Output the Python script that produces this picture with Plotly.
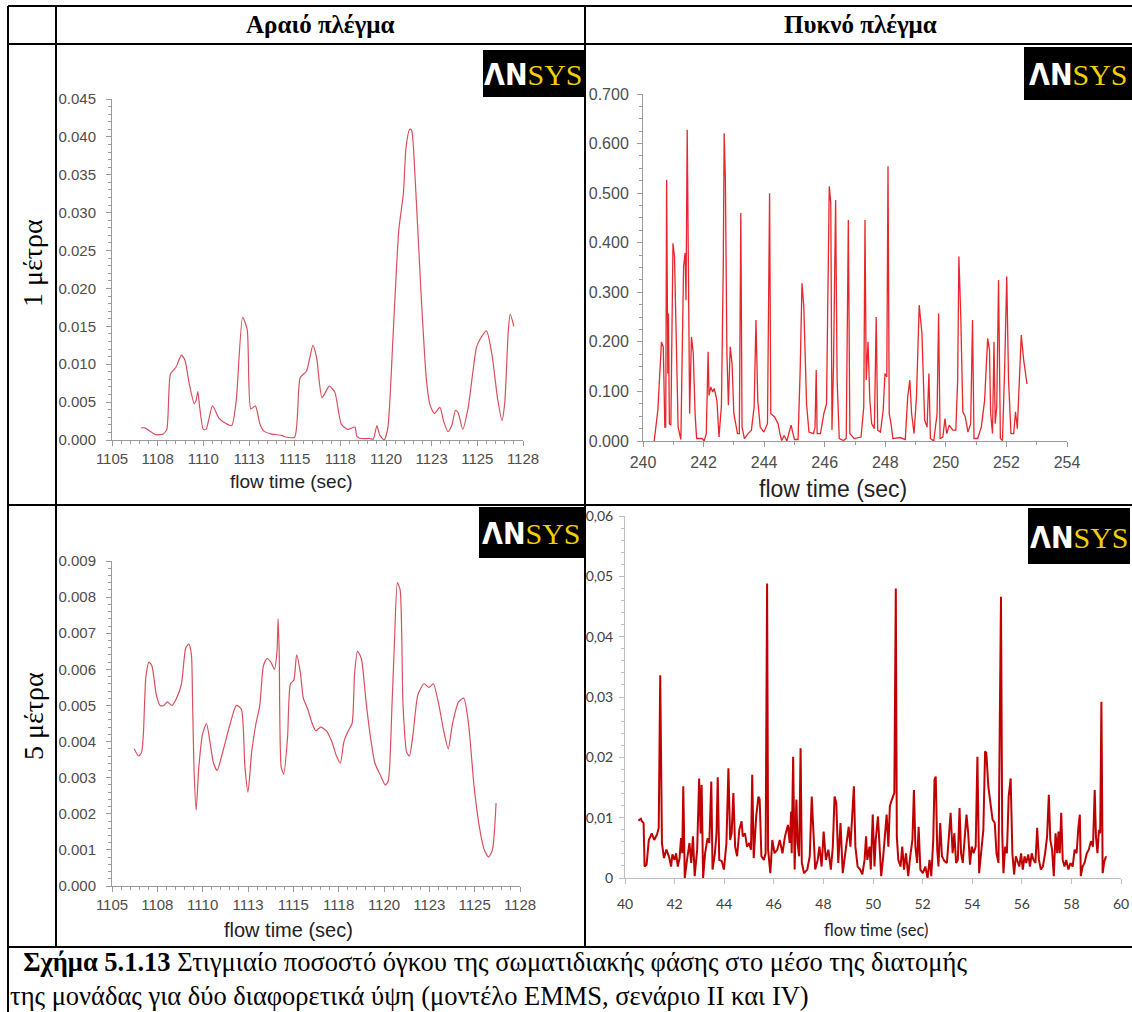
import plotly.graph_objects as go

W, H = 1132, 1012


def px(x):
    return x / W


def py(y):
    return 1 - y / H


# ---------------- data ----------------
# coarse mesh, 1 m height
t_coarse_1m = [1106.6, 1106.8, 1107.4, 1107.8, 1108.0, 1108.2, 1108.5, 1108.8, 1109.0, 1109.2,
               1109.5, 1109.6, 1109.7, 1109.8, 1110.0, 1110.15, 1110.5, 1110.85, 1111.15, 1111.55,
               1111.8, 1112.15, 1112.4, 1112.6, 1112.85, 1113.1, 1113.3, 1113.7, 1114.3, 1114.5,
               1115.0, 1115.3, 1115.65, 1116.0, 1116.2, 1116.5, 1116.9, 1117.2, 1117.55, 1117.9,
               1118.3, 1118.4, 1118.6, 1119.1, 1119.3, 1119.5, 1119.65, 1119.9, 1120.1, 1120.4,
               1120.7, 1120.95, 1121.1, 1121.3, 1121.4, 1121.6, 1121.9, 1122.2, 1122.4, 1122.65,
               1122.95, 1123.15, 1123.4, 1123.6, 1123.8, 1123.95, 1124.2, 1124.5, 1124.95, 1125.15,
               1125.5, 1125.8, 1126.1, 1126.35, 1126.5, 1126.7, 1126.8, 1127.0]
vf_coarse_1m = [0.0016, 0.0016, 0.0007, 0.0008, 0.0014, 0.0087, 0.0096, 0.0112, 0.0105, 0.0078,
                0.0048, 0.0052, 0.0064, 0.0043, 0.0014, 0.0014, 0.0045, 0.0029, 0.0023, 0.0019,
                0.0052, 0.0162, 0.0146, 0.0041, 0.0045, 0.0021, 0.0012, 0.0008, 0.0006, 0.0004,
                0.0004, 0.0082, 0.0091, 0.0125, 0.0109, 0.0056, 0.0071, 0.0063, 0.0021, 0.0014,
                0.0017, 0.0005, 0.0002, 0.0002, 0.0001, 0.0019, 0.0007, 0.0, 0.0016, 0.0144,
                0.0277, 0.0325, 0.0387, 0.0410, 0.0409, 0.0343, 0.0202, 0.0083, 0.0047, 0.0035,
                0.0043, 0.0025, 0.0011, 0.0019, 0.0039, 0.0036, 0.0014, 0.0043, 0.0122, 0.0133,
                0.0144, 0.0113, 0.0056, 0.0026, 0.0049, 0.0146, 0.0166, 0.0150]

# fine mesh, 1 m height
t_fine_1m = [240.37, 240.49, 240.61, 240.67, 240.72, 240.75, 240.78, 240.82, 240.84, 240.87,
             240.92, 240.99, 241.04, 241.10, 241.16, 241.25, 241.34, 241.39, 241.42, 241.46,
             241.50, 241.54, 241.60, 241.66, 241.72, 241.77, 241.95, 242.02, 242.09, 242.15,
             242.18, 242.24, 242.30, 242.35, 242.44, 242.51, 242.59, 242.65, 242.68, 242.72,
             242.77, 242.82, 242.88, 242.94, 243.00, 243.12, 243.18, 243.23, 243.27, 243.35,
             243.47, 243.58, 243.67, 243.73, 243.79, 243.87, 243.99, 244.11, 244.18, 244.22,
             244.34, 244.46, 244.52, 244.58, 244.66, 244.75, 244.89, 245.00, 245.12, 245.19,
             245.25, 245.31, 245.40, 245.48, 245.63, 245.68, 245.72, 245.75, 245.86, 245.97,
             246.06, 246.12, 246.15, 246.20, 246.24, 246.29, 246.36, 246.41, 246.48, 246.62,
             246.71, 246.78, 246.83, 246.97, 247.20, 247.29, 247.33, 247.37, 247.43, 247.49,
             247.55, 247.64, 247.70, 247.75, 247.84, 247.93, 247.99, 248.05, 248.09, 248.13,
             248.19, 248.25, 248.49, 248.66, 248.74, 248.81, 248.87, 248.95, 249.03, 249.12,
             249.21, 249.30, 249.38, 249.44, 249.49, 249.60, 249.71, 249.76, 249.81, 249.90,
             249.97, 250.03, 250.11, 250.23, 250.33, 250.39, 250.43, 250.49, 250.56, 250.64,
             250.73, 250.82, 250.88, 250.93, 251.05, 251.17, 251.28, 251.38, 251.44, 251.48,
             251.54, 251.59, 251.63, 251.68, 251.74, 251.80, 251.87, 251.94, 252.01, 252.07,
             252.15, 252.24, 252.30, 252.36, 252.43, 252.49, 252.57, 252.66, 252.68]
vf_fine_1m = [0.0, 0.062, 0.200, 0.190, 0.028, 0.028, 0.527, 0.136, 0.257, 0.035,
              0.032, 0.399, 0.372, 0.204, 0.028, 0.003, 0.352, 0.379, 0.284, 0.628,
              0.257, 0.055, 0.210, 0.177, 0.055, 0.005, 0.005, 0.0, 0.015, 0.180,
              0.092, 0.109, 0.099, 0.106, 0.082, 0.008, 0.072, 0.352, 0.621, 0.527,
              0.177, 0.072, 0.190, 0.156, 0.055, 0.015, 0.015, 0.460, 0.028, 0.005,
              0.015, 0.022, 0.069, 0.244, 0.082, 0.028, 0.018, 0.035, 0.500, 0.055,
              0.049, 0.035, 0.015, 0.001, 0.011, 0.0, 0.032, 0.003, 0.003, 0.143,
              0.318, 0.271, 0.075, 0.018, 0.015, 0.028, 0.143, 0.015, 0.015, 0.055,
              0.075, 0.379, 0.514, 0.480, 0.022, 0.150, 0.486, 0.123, 0.005, 0.001,
              0.005, 0.446, 0.015, 0.005, 0.008, 0.069, 0.446, 0.123, 0.200, 0.082,
              0.035, 0.025, 0.250, 0.022, 0.018, 0.062, 0.136, 0.129, 0.554, 0.055,
              0.035, 0.005, 0.007, 0.003, 0.089, 0.123, 0.055, 0.015, 0.089, 0.274,
              0.217, 0.042, 0.028, 0.136, 0.005, 0.0, 0.055, 0.257, 0.005, 0.008,
              0.045, 0.015, 0.032, 0.022, 0.022, 0.123, 0.372, 0.257, 0.059, 0.049,
              0.018, 0.035, 0.244, 0.005, 0.005, 0.028, 0.082, 0.207, 0.183, 0.055,
              0.015, 0.200, 0.035, 0.069, 0.325, 0.005, 0.001, 0.143, 0.332, 0.123,
              0.015, 0.015, 0.059, 0.025, 0.143, 0.214, 0.163, 0.116, 0.115]

# coarse mesh, 5 m height
t_coarse_5m = [1106.22, 1106.47, 1106.63, 1106.73, 1106.87, 1107.04, 1107.20, 1107.44, 1107.65, 1107.85,
               1108.05, 1108.30, 1108.56, 1108.83, 1109.07, 1109.24, 1109.38, 1109.44, 1109.52, 1109.64,
               1109.79, 1109.99, 1110.21, 1110.40, 1110.60, 1110.80, 1111.10, 1111.52, 1111.86, 1112.13,
               1112.33, 1112.50, 1112.70, 1112.94, 1113.15, 1113.35, 1113.55, 1113.76, 1113.96, 1114.10,
               1114.16, 1114.22, 1114.33, 1114.47, 1114.68, 1114.84, 1115.03, 1115.18, 1115.39, 1115.55,
               1115.79, 1116.04, 1116.24, 1116.51, 1116.81, 1117.12, 1117.38, 1117.59, 1117.79, 1118.03,
               1118.24, 1118.38, 1118.54, 1118.75, 1119.01, 1119.26, 1119.50, 1119.77, 1120.07, 1120.23,
               1120.44, 1120.58, 1120.74, 1120.89, 1121.05, 1121.25, 1121.40, 1121.60, 1121.87, 1122.21,
               1122.48, 1122.72, 1123.03, 1123.29, 1123.54, 1123.78, 1124.11, 1124.40, 1124.66, 1124.96,
               1125.27, 1125.53, 1125.77, 1125.98, 1126.18]
vf_coarse_5m = [0.0038, 0.0036, 0.0037, 0.0042, 0.0058, 0.0062, 0.0061, 0.0053, 0.0050, 0.0050,
                0.0051, 0.0050, 0.0052, 0.0056, 0.0066, 0.0067, 0.0064, 0.0052, 0.0033, 0.0021,
                0.0033, 0.0042, 0.0045, 0.0040, 0.0034, 0.0032, 0.0037, 0.0045, 0.0050, 0.0049,
                0.0033, 0.0026, 0.0037, 0.0045, 0.0050, 0.0061, 0.0063, 0.0062, 0.0060, 0.0065,
                0.0074, 0.0065, 0.0033, 0.0031, 0.0041, 0.0056, 0.0057, 0.0064, 0.0059, 0.0052,
                0.0049, 0.0045, 0.0043, 0.0044, 0.0043, 0.0040, 0.0036, 0.0034, 0.0040, 0.0043,
                0.0045, 0.0059, 0.0065, 0.0063, 0.0051, 0.0041, 0.0034, 0.0031, 0.0028, 0.0029,
                0.0050, 0.0068, 0.0084, 0.0082, 0.0050, 0.0037, 0.0036, 0.0042, 0.0053, 0.0056,
                0.0055, 0.0056, 0.0050, 0.0043, 0.0038, 0.0045, 0.0051, 0.0052, 0.0045, 0.0028,
                0.0016, 0.0010, 0.0008, 0.0010, 0.0023]

# fine mesh, 5 m height
t_fine_5m = [40.54, 40.64, 40.68, 40.75, 40.79, 40.87, 40.96, 41.08, 41.18, 41.29,
             41.36, 41.42, 41.49, 41.57, 41.67, 41.77, 41.86, 41.91, 42.00, 42.06,
             42.13, 42.20, 42.26, 42.31, 42.35, 42.41, 42.50, 42.60, 42.67, 42.74,
             42.81, 42.91, 42.99, 43.05, 43.09, 43.15, 43.23, 43.33, 43.40, 43.48,
             43.53, 43.62, 43.69, 43.74, 43.80, 43.90, 43.99, 44.09, 44.17, 44.24,
             44.30, 44.37, 44.44, 44.52, 44.61, 44.70, 44.75, 44.84, 44.92, 45.01,
             45.08, 45.13, 45.19, 45.29, 45.38, 45.43, 45.50, 45.60, 45.67, 45.73,
             45.77, 45.86, 45.94, 46.03, 46.14, 46.24, 46.35, 46.45, 46.57, 46.64,
             46.70, 46.72, 46.78, 46.84, 46.91, 46.96, 47.02, 47.08, 47.13, 47.22,
             47.35, 47.45, 47.53, 47.59, 47.67, 47.77, 47.84, 47.93, 48.01, 48.10,
             48.20, 48.30, 48.38, 48.45, 48.52, 48.60, 48.69, 48.78, 48.87, 48.95,
             49.02, 49.09, 49.16, 49.23, 49.29, 49.38, 49.48, 49.57, 49.66, 49.72,
             49.77, 49.86, 49.91, 49.99, 50.06, 50.11, 50.20, 50.26, 50.33, 50.40,
             50.48, 50.55, 50.62, 50.68, 50.76, 50.82, 50.86, 50.92, 50.96, 51.02,
             51.11, 51.18, 51.25, 51.33, 51.42, 51.50, 51.59, 51.65, 51.71, 51.78,
             51.84, 51.91, 52.01, 52.11, 52.20, 52.28, 52.35, 52.43, 52.48, 52.53,
             52.59, 52.64, 52.71, 52.78, 52.88, 52.98, 53.06, 53.13, 53.21, 53.28,
             53.35, 53.42, 53.49, 53.55, 53.62, 53.70, 53.77, 53.84, 53.91, 53.98,
             54.06, 54.14, 54.21, 54.28, 54.36, 54.45, 54.52, 54.57, 54.65, 54.73,
             54.82, 54.91, 54.98, 55.06, 55.12, 55.16, 55.21, 55.26, 55.33, 55.40,
             55.47, 55.55, 55.62, 55.69, 55.76, 55.83, 55.90, 55.97, 56.04, 56.11,
             56.18, 56.26, 56.33, 56.40, 56.47, 56.55, 56.62, 56.69, 56.77, 56.85,
             56.94, 57.02, 57.09, 57.15, 57.22, 57.29, 57.36, 57.43, 57.48, 57.53,
             57.59, 57.65, 57.72, 57.79, 57.88, 57.96, 58.05, 58.13, 58.21, 58.28,
             58.34, 58.38, 58.45, 58.53, 58.62, 58.70, 58.79, 58.87, 58.94, 58.99,
             59.05, 59.11, 59.16, 59.21, 59.26, 59.33, 59.40]
vf_fine_5m = [0.0095, 0.0098, 0.0094, 0.0091, 0.0019, 0.0022, 0.0063, 0.0074, 0.0063, 0.0072,
              0.0083, 0.0336, 0.0058, 0.0033, 0.0047, 0.0036, 0.0019, 0.0039, 0.0030, 0.0041,
              0.0019, 0.0033, 0.0066, 0.0041, 0.0152, 0.0000, 0.0030, 0.0058, 0.0025, 0.0069,
              0.0003, 0.0047, 0.0165, 0.0074, 0.0154, 0.0000, 0.0041, 0.0066, 0.0058, 0.0160,
              0.0014, 0.0039, 0.0074, 0.0167, 0.0030, 0.0028, 0.0014, 0.0058, 0.0182, 0.0063,
              0.0074, 0.0141, 0.0052, 0.0036, 0.0080, 0.0094, 0.0069, 0.0074, 0.0052, 0.0058,
              0.0047, 0.0171, 0.0033, 0.0102, 0.0135, 0.0130, 0.0036, 0.0030, 0.0041, 0.0488,
              0.0047, 0.0008, 0.0063, 0.0041, 0.0047, 0.0063, 0.0041, 0.0069, 0.0088, 0.0058,
              0.0110, 0.0041, 0.0201, 0.0014, 0.0130, 0.0058, 0.0036, 0.0215, 0.0025, 0.0008,
              0.0014, 0.0036, 0.0135, 0.0074, 0.0014, 0.0030, 0.0052, 0.0019, 0.0077, 0.0030,
              0.0047, 0.0014, 0.0052, 0.0135, 0.0124, 0.0025, 0.0091, 0.0008, 0.0036, 0.0058,
              0.0085, 0.0052, 0.0099, 0.0152, 0.0052, 0.0019, 0.0014, 0.0006, 0.0030, 0.0069,
              0.0030, 0.0052, 0.0014, 0.0105, 0.0019, 0.0063, 0.0102, 0.0047, 0.0003, 0.0030,
              0.0074, 0.0105, 0.0052, 0.0119, 0.0130, 0.0138, 0.0141, 0.0480, 0.0069, 0.0030,
              0.0019, 0.0052, 0.0014, 0.0041, 0.0003, 0.0036, 0.0063, 0.0146, 0.0052, 0.0025,
              0.0085, 0.0014, 0.0008, 0.0019, 0.0000, 0.0030, 0.0003, 0.0063, 0.0163, 0.0168,
              0.0047, 0.0019, 0.0091, 0.0036, 0.0028, 0.0025, 0.0080, 0.0108, 0.0041, 0.0074,
              0.0025, 0.0030, 0.0116, 0.0041, 0.0025, 0.0074, 0.0105, 0.0074, 0.0022, 0.0052,
              0.0041, 0.0052, 0.0201, 0.0008, 0.0041, 0.0080, 0.0210, 0.0207, 0.0152, 0.0130,
              0.0097, 0.0091, 0.0041, 0.0025, 0.0240, 0.0466, 0.0074, 0.0008, 0.0052, 0.0041,
              0.0135, 0.0165, 0.0041, 0.0006, 0.0036, 0.0028, 0.0019, 0.0041, 0.0014, 0.0036,
              0.0025, 0.0039, 0.0019, 0.0041, 0.0030, 0.0025, 0.0083, 0.0030, 0.0014, 0.0019,
              0.0041, 0.0069, 0.0138, 0.0063, 0.0047, 0.0003, 0.0074, 0.0041, 0.0077, 0.0041,
              0.0108, 0.0030, 0.0019, 0.0030, 0.0014, 0.0025, 0.0019, 0.0047, 0.0041, 0.0083,
              0.0105, 0.0003, 0.0019, 0.0025, 0.0041, 0.0047, 0.0061, 0.0052, 0.0146, 0.0069,
              0.0041, 0.0080, 0.0074, 0.0292, 0.0008, 0.0028, 0.0036]

# tick labels of the ANSYS time axes (ticks every 2.5 s, labels rounded)
ansys_tick_vals = [1105, 1107.5, 1110, 1112.5, 1115, 1117.5, 1120, 1122.5, 1125, 1127.5]
ansys_tick_text = ["1105", "1108", "1110", "1113", "1115", "1118", "1120", "1123", "1125", "1128"]
excel_y_vals = [0, 0.01, 0.02, 0.03, 0.04, 0.05, 0.06]
excel_y_text = ["0", "0,01", "0,02", "0,03", "0,04", "0,05", "0,06"]

col_headers = ["Αραιό πλέγμα", "Πυκνό πλέγμα"]
row_headers = ["1 μέτρα", "5 μέτρα"]
axis_title = "flow time (sec)"
caption_bold = "Σχήμα 5.1.13"
caption_line1 = " Στιγμιαίο ποσοστό όγκου της σωματιδιακής φάσης στο μέσο της διατομής"
caption_line2 = "της μονάδας για δύο διαφορετικά ύψη (μοντέλο EMMS, σενάριο II και IV)"

# ---------------- figure ----------------
fig = go.Figure()

fig.add_trace(go.Scatter(x=t_coarse_1m, y=vf_coarse_1m, mode="lines", xaxis="x", yaxis="y",
                         line=dict(color="#d9505c", width=1.2, shape="spline", smoothing=0.6)))
fig.add_trace(go.Scatter(x=t_fine_1m, y=vf_fine_1m, mode="lines", xaxis="x2", yaxis="y2",
                         line=dict(color="#e8262c", width=1.3)))
fig.add_trace(go.Scatter(x=t_coarse_5m, y=vf_coarse_5m, mode="lines", xaxis="x3", yaxis="y3",
                         line=dict(color="#d9505c", width=1.2, shape="spline", smoothing=0.6)))
fig.add_trace(go.Scatter(x=t_fine_5m, y=vf_fine_5m, mode="lines", xaxis="x4", yaxis="y4",
                         line=dict(color="#c00000", width=2)))

ansys_font = dict(family="Liberation Sans, Arial, sans-serif", size=15, color="#4d4d4d")
gray = "#9a9a9a"
excel_gray = "#bfbfbf"
excel_font = dict(family="Lato, sans-serif", size=14, color="#404040")


def ansys_axis(**kw):
    base = dict(showline=True, linecolor=gray, linewidth=1, ticks="outside", ticklen=5,
                tickcolor=gray, tickwidth=1, showgrid=False, zeroline=False, automargin=False,
                tickfont=ansys_font, fixedrange=True)
    base.update(kw)
    return base


def excel_axis(**kw):
    base = dict(showline=True, linecolor=excel_gray, linewidth=1, ticks="outside", ticklen=5,
                tickcolor=excel_gray, showgrid=False, zeroline=False, automargin=False,
                tickfont=excel_font, fixedrange=True)
    base.update(kw)
    return base


layout_axes = dict(
    xaxis=ansys_axis(domain=[px(112), px(523)], range=[1105, 1127.5], anchor="y",
                     tickmode="array", tickvals=ansys_tick_vals, ticktext=ansys_tick_text,
                     minor=dict(ticks="outside", ticklen=3, tick0=1105, dtick=0.5, tickcolor=gray)),
    yaxis=ansys_axis(domain=[py(440), py(99)], range=[0, 0.045], anchor="x",
                     dtick=0.005, tick0=0, tickformat=".3f", ticklabelstandoff=7,
                     minor=dict(ticks="outside", ticklen=3, dtick=0.001, tickcolor=gray)),
    xaxis2=ansys_axis(domain=[px(643), px(1067)], range=[240, 254], anchor="y2",
                      dtick=2, tick0=240, tickfont=dict(ansys_font, size=16), ticklabelstandoff=2,
                      minor=dict(ticks="outside", ticklen=3, dtick=1, tickcolor=gray)),
    yaxis2=ansys_axis(domain=[py(441), py(94)], range=[0, 0.7], anchor="x2",
                      dtick=0.1, tick0=0, tickformat=".3f", tickfont=dict(ansys_font, size=16),
                      ticklabelstandoff=5,
                      minor=dict(ticks="outside", ticklen=3, dtick=0.025, tickcolor=gray)),
    xaxis3=ansys_axis(domain=[px(112), px(520)], range=[1105, 1127.5], anchor="y3",
                      tickmode="array", tickvals=ansys_tick_vals, ticktext=ansys_tick_text,
                      minor=dict(ticks="outside", ticklen=3, tick0=1105, dtick=0.5, tickcolor=gray)),
    yaxis3=ansys_axis(domain=[py(886), py(561)], range=[0, 0.009], anchor="x3",
                      dtick=0.001, tick0=0, tickformat=".3f", ticklabelstandoff=7,
                      minor=dict(ticks="outside", ticklen=3, dtick=0.0002, tickcolor=gray)),
    xaxis4=excel_axis(domain=[px(625), px(1121)], range=[40, 60], anchor="y4", dtick=2, tick0=40,
                      ticklabelstandoff=8),
    yaxis4=excel_axis(domain=[py(878), py(516)], range=[0, 0.06], anchor="x4",
                      tickmode="array", tickvals=excel_y_vals, ticktext=excel_y_text,
                      ticklabelstandoff=3,
                      minor=dict(ticks="outside", ticklen=3, dtick=0.002, tickcolor=excel_gray)),
)

# ---------------- table frame ----------------
line_black = dict(color="black", width=2)
shapes = [
    dict(type="line", xref="paper", yref="paper", x0=px(8), x1=px(1132), y0=py(6), y1=py(6), line=line_black),
    dict(type="line", xref="paper", yref="paper", x0=px(8), x1=px(1132), y0=py(44), y1=py(44), line=line_black),
    dict(type="line", xref="paper", yref="paper", x0=px(8), x1=px(1132), y0=py(505), y1=py(505), line=line_black),
    dict(type="line", xref="paper", yref="paper", x0=px(8), x1=px(1132), y0=py(947), y1=py(947), line=line_black),
    dict(type="line", xref="paper", yref="paper", x0=px(8), x1=px(8), y0=py(6), y1=py(1012), line=line_black),
    dict(type="line", xref="paper", yref="paper", x0=px(56), x1=px(56), y0=py(6), y1=py(947), line=line_black),
    dict(type="line", xref="paper", yref="paper", x0=px(585), x1=px(585), y0=py(6), y1=py(947), line=line_black),
]

# ANSYS badges (x0, x1, y0, y1 in pixels)
badges = [(483, 584, 50, 97), (1024, 1132, 47, 100), (479, 584, 507, 558), (1028, 1130, 508, 564)]
for x0, x1, y0, y1 in badges:
    shapes.append(dict(type="rect", xref="paper", yref="paper", x0=px(x0), x1=px(x1),
                       y0=py(y1), y1=py(y0), fillcolor="black", line=dict(width=0), layer="above"))

annotations = []
badge_text = ("<span style='color:#ffffff;font-family:Liberation Sans Narrow, DejaVu Sans Condensed, sans-serif;"
              "font-weight:bold'>ΛN</span>"
              "<span style='color:#f2d000;font-family:Liberation Serif, serif'>SYS</span>")
for x0, x1, y0, y1 in badges:
    annotations.append(dict(xref="paper", yref="paper", x=px((x0 + x1) / 2), y=py((y0 + y1) / 2 + 1),
                            text=badge_text, showarrow=False, xanchor="center", yanchor="middle",
                            font=dict(size=30, family="Liberation Serif")))

# column and row headers
serif = "Liberation Serif, Times New Roman, serif"
for label, cx in zip(col_headers, [320, 860]):
    annotations.append(dict(xref="paper", yref="paper", x=px(cx), y=py(25), text=f"<b>{label}</b>",
                            showarrow=False, xanchor="center", yanchor="middle",
                            font=dict(family=serif, size=25, color="black")))
for label, cy in zip(row_headers, [263, 716]):
    annotations.append(dict(xref="paper", yref="paper", x=px(33), y=py(cy), text=label, textangle=-90,
                            showarrow=False, xanchor="center", yanchor="middle",
                            font=dict(family=serif, size=28, color="black")))

# axis titles
for cx, cy, fam, size in [(291, 481, "Liberation Sans, Arial, sans-serif", 19),
                          (833, 489, "Liberation Sans, Arial, sans-serif", 23),
                          (288, 930, "Liberation Sans, Arial, sans-serif", 20),
                          (876, 930, "Lato, sans-serif", 16.5)]:
    annotations.append(dict(xref="paper", yref="paper", x=px(cx), y=py(cy), text=axis_title,
                            showarrow=False, xanchor="center", yanchor="middle",
                            font=dict(family=fam, size=size, color="#222222")))

# caption: one text block, first line indented
caption_text = f"\u00a0\u00a0<b>{caption_bold}</b>{caption_line1}<br>{caption_line2}"
annotations.append(dict(xref="paper", yref="paper", x=px(8), y=py(979),
                        text=caption_text, showarrow=False, align="left",
                        xanchor="left", yanchor="middle", font=dict(family=serif, size=26.5, color="black")))

fig.update_layout(
    width=W, height=H, margin=dict(l=0, r=0, t=0, b=0, pad=0, autoexpand=False),
    paper_bgcolor="white", plot_bgcolor="white", showlegend=False,
    shapes=shapes, annotations=annotations, **layout_axes,
)

page_reset = ("var s=document.createElement('style');"
              "s.innerHTML='html,body{margin:0;padding:0;overflow:hidden}';"
              "document.head.appendChild(s);")
fig.write_html("out.html", config={"displayModeBar": False}, post_script=page_reset)
